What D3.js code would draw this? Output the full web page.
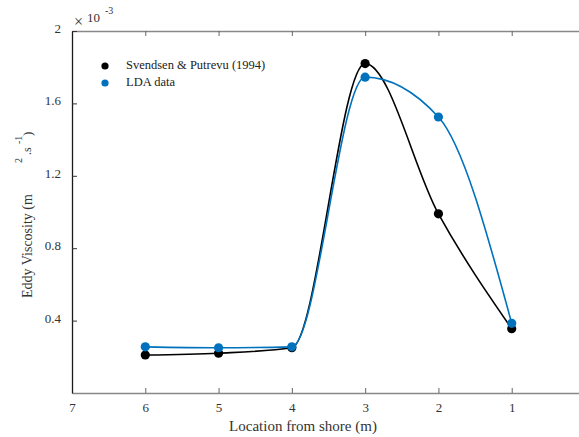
<!DOCTYPE html>
<html><head><meta charset="utf-8">
<script src="https://cdn.jsdelivr.net/npm/d3@7"></script>
<style>body{margin:0;background:#fff}svg{display:block}text{font-family:"Liberation Serif","DejaVu Serif",serif}</style>
</head><body>
<svg id="c" width="579" height="437"></svg>
<script>
const locations = [6, 5, 4, 3, 2, 1];
const svendsen = [0.21, 0.22, 0.25, 1.82, 0.99, 0.355];
const lda = [0.255, 0.25, 0.255, 1.745, 1.525, 0.385];
const xTicks = [7, 6, 5, 4, 3, 2, 1];
const yTicks = [0.4, 0.8, 1.2, 1.6, 2];
const seriesNames = ["Svendsen & Putrevu (1994)", "LDA data"];
const seriesColors = ["#000000", "#0072BD"];

const svg = d3.select("#c");
const L = 72, R = 585, T = 31, B = 393;
const x = d3.scaleLinear().domain([7, 0]).range([L, R]);
const y = d3.scaleLinear().domain([0, 2]).range([B, T]);

// axes
const gB = svg.append("g").attr("transform", `translate(0,${B})`)
  .call(d3.axisBottom(x).tickValues(xTicks).tickSizeInner(-5).tickSizeOuter(0).tickPadding(10).tickFormat(d3.format("d")));
const gT = svg.append("g").attr("transform", `translate(0,${T})`)
  .call(d3.axisTop(x).tickValues(xTicks).tickSizeInner(-5).tickSizeOuter(0).tickFormat(""));
const gL = svg.append("g").attr("transform", `translate(${L},0)`)
  .call(d3.axisLeft(y).tickValues(yTicks).tickSizeInner(-5).tickSizeOuter(0).tickPadding(11).tickFormat(d => d === 2 ? "2" : d3.format(".1f")(d)));
[gB, gT].forEach(g => { g.select(".domain").attr("stroke", "#888").attr("stroke-width", 1.3); g.selectAll(".tick line").attr("stroke", "#666"); });
gL.select(".domain").attr("stroke", "#1a1a1a").attr("stroke-width", 1.3);
gL.selectAll(".tick line").attr("stroke", "#333");
svg.selectAll(".tick text").attr("font-family", "Liberation Serif").attr("font-size", 13).attr("fill", "#333");
gL.selectAll(".tick text").attr("dy", "0.12em");
gB.selectAll(".tick text").attr("dy", "0.71em");

// exponent
svg.append("text").attr("x", 74).attr("y", 27).attr("font-size", 16).attr("fill", "#333").text("\u00D7");
svg.append("text").attr("x", 87).attr("y", 22).attr("font-size", 13).attr("fill", "#333").text("10");
svg.append("text").attr("x", 105).attr("y", 14).attr("font-size", 10).attr("fill", "#333").text("-3");

// labels
svg.append("text").attr("x", 303).attr("y", 431).attr("text-anchor", "middle").attr("font-size", 15).attr("fill", "#333").text("Location from shore (m)");
const yl = [
  {t: "Eddy Viscosity (m", bx: 32, yy: 298, fs: 14},
  {t: "2", bx: 22, yy: 163, fs: 10},
  {t: ".s", bx: 31, yy: 155, fs: 12},
  {t: "-1", bx: 22, yy: 144, fs: 10},
  {t: ")", bx: 32, yy: 136, fs: 13}
];
yl.forEach(p => svg.append("text").attr("transform", `translate(${p.bx},${p.yy}) rotate(-90)`).attr("font-size", p.fs).attr("fill", "#333").text(p.t));

// series
const line = d3.line().x(d => x(d[0])).y(d => y(d[1])).curve(d3.curveMonotoneX);
[svendsen, lda].forEach((vals, i) => {
  const pts = locations.map((l, j) => [l, vals[j]]);
  svg.append("path").attr("d", line(pts)).attr("fill", "none").attr("stroke", seriesColors[i]).attr("stroke-width", 1.6);
  svg.append("g").selectAll("circle").data(pts).join("circle")
    .attr("cx", d => x(d[0])).attr("cy", d => y(d[1])).attr("r", 4.6).attr("fill", seriesColors[i]);
});

// legend
seriesNames.forEach((n, i) => {
  const ly = 66 + i * 17;
  svg.append("circle").attr("cx", 105).attr("cy", ly).attr("r", 3.6).attr("fill", seriesColors[i]);
  svg.append("text").attr("x", 126).attr("y", ly + 3).attr("font-size", 12.5).attr("fill", "#222").text(n);
});
</script>
</body></html>
